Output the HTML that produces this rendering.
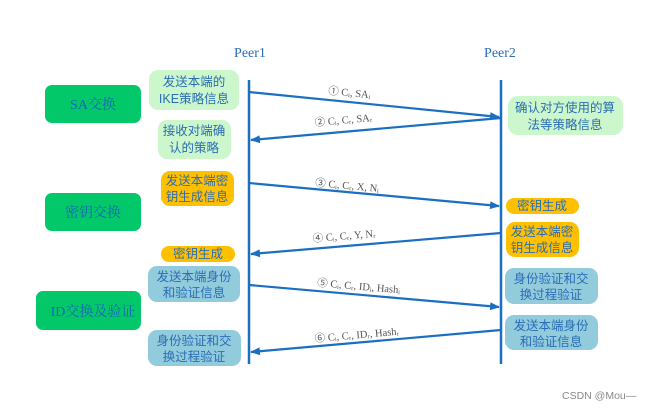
<!DOCTYPE html>
<html><head><meta charset="utf-8"><style>
body{margin:0;background:#fff}
svg{display:block}
text{font-family:"Liberation Serif","Noto Sans CJK SC",serif;fill:#2a6db5}
.b{font-family:"Liberation Sans","Noto Sans CJK SC",sans-serif;font-size:12.5px;text-anchor:middle}
.g{font-family:"Liberation Serif","Noto Serif CJK SC",serif;font-size:14px;text-anchor:middle;fill:#1565b8}
.l{font-size:10.5px;fill:#555;font-family:"Liberation Serif","Noto Sans CJK SC",serif}
</style></head><body>
<svg width="657" height="409" viewBox="0 0 657 409" xmlns="http://www.w3.org/2000/svg">
<defs><marker id="a" markerWidth="10" markerHeight="8" refX="9" refY="4" orient="auto" markerUnits="userSpaceOnUse"><path d="M0,0 L10,4 L0,8 z" fill="#1a6fc2"/></marker></defs>
<text x="250" y="57" font-size="14" text-anchor="middle" fill="#1a6fc2">Peer1</text>
<text x="500" y="57" font-size="14" text-anchor="middle" fill="#1a6fc2">Peer2</text>
<line x1="249" y1="80" x2="249" y2="364" stroke="#1a6fc2" stroke-width="2.5"/>
<line x1="501" y1="80" x2="501" y2="364" stroke="#1a6fc2" stroke-width="2.5"/>
<!-- green left -->
<rect x="45" y="85" width="96" height="38" rx="7" fill="#03c86a"/>
<text class="g" x="93" y="109">SA交换</text>
<rect x="45" y="193" width="96" height="38" rx="7" fill="#03c86a"/>
<text class="g" x="93" y="217">密钥交换</text>
<rect x="36" y="291" width="77" height="39" rx="7" fill="#03c86a" transform="translate(0,0)"/>
<rect x="36" y="291" width="77" height="39" rx="7" fill="#03c86a" opacity="0"/>
<rect x="45" y="291" width="96" height="39" rx="7" fill="#03c86a"/>
<text class="g" x="93" y="316" font-size="13.5">ID交换及验证</text>
<!-- left boxes -->
<rect x="149" y="70" width="90" height="40" rx="9" fill="#ccf7cc"/>
<text class="b" x="194" y="86">发送本端的</text><text class="b" x="194" y="103">IKE策略信息</text>
<rect x="158" y="120" width="73" height="39" rx="9" fill="#ccf7cc"/>
<text class="b" x="194" y="135">接收对端确</text><text class="b" x="194" y="152">认的策略</text>
<rect x="161" y="171" width="73" height="35" rx="9" fill="#ffc000"/>
<text class="b" x="197" y="185">发送本端密</text><text class="b" x="197" y="201">钥生成信息</text>
<rect x="161" y="246" width="74" height="16" rx="8" fill="#ffc000"/>
<text class="b" x="198" y="258">密钥生成</text>
<rect x="148" y="266" width="92" height="36" rx="9" fill="#92cbdc"/>
<text class="b" x="194" y="281">发送本端身份</text><text class="b" x="194" y="297">和验证信息</text>
<rect x="148" y="330" width="93" height="36" rx="9" fill="#92cbdc"/>
<text class="b" x="194" y="345">身份验证和交</text><text class="b" x="194" y="361">换过程验证</text>
<!-- right boxes -->
<rect x="508" y="96" width="115" height="39" rx="10" fill="#ccf7cc"/>
<text class="b" x="565" y="112">确认对方使用的算</text><text class="b" x="565" y="129">法等策略信息</text>
<rect x="506" y="198" width="73" height="16" rx="8" fill="#ffc000"/>
<text class="b" x="542" y="210">密钥生成</text>
<rect x="506" y="222" width="73" height="35" rx="9" fill="#ffc000"/>
<text class="b" x="542" y="236">发送本端密</text><text class="b" x="542" y="252">钥生成信息</text>
<rect x="505" y="268" width="93" height="36" rx="9" fill="#92cbdc"/>
<text class="b" x="551" y="283">身份验证和交</text><text class="b" x="551" y="299">换过程验证</text>
<rect x="505" y="315" width="93" height="35" rx="9" fill="#92cbdc"/>
<text class="b" x="551" y="330">发送本端身份</text><text class="b" x="551" y="346">和验证信息</text>
<!-- arrows -->
<g stroke="#1a6fc2" stroke-width="2.2" fill="none">
<line x1="249" y1="92" x2="499" y2="117" marker-end="url(#a)"/>
<line x1="501" y1="118" x2="251" y2="140" marker-end="url(#a)"/>
<line x1="249" y1="183" x2="499" y2="206" marker-end="url(#a)"/>
<line x1="501" y1="233" x2="251" y2="254" marker-end="url(#a)"/>
<line x1="249" y1="285" x2="499" y2="307" marker-end="url(#a)"/>
<line x1="501" y1="330" x2="251" y2="352" marker-end="url(#a)"/>
</g>
<text class="l" x="328" y="94" transform="rotate(5.7 328 94)">① Cᵢ, SAᵢ</text>
<text class="l" x="315" y="126" transform="rotate(-5 315 126)">② Cᵢ, Cᵣ, SAᵣ</text>
<text class="l" x="315" y="186" transform="rotate(5.2 315 186)">③ Cᵢ, Cᵣ, X, Nᵢ</text>
<text class="l" x="313" y="242" transform="rotate(-4.8 313 242)">④ Cᵢ, Cᵣ, Y, Nᵣ</text>
<text class="l" x="317" y="286" transform="rotate(5 317 286)">⑤ Cᵢ, Cᵣ, IDᵢ, Hashᵢ</text>
<text class="l" x="315" y="342" transform="rotate(-5 315 342)">⑥ Cᵢ, Cᵣ, IDᵣ, Hashᵣ</text>
<text x="562" y="399" font-size="10.5" fill="#888" style="fill:#888;font-family:'Liberation Sans',sans-serif">CSDN @Mou—</text>
</svg>
</body></html>
